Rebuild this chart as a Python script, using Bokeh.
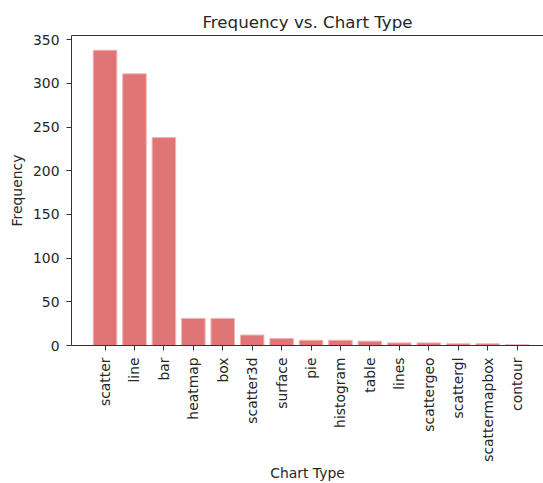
import math
from bokeh.plotting import figure
from bokeh.models import Range1d, FixedTicker, LinearAxis, ColumnDataSource
from bokeh.embed import file_html
from bokeh.resources import INLINE

chart_types = ["scatter", "line", "bar", "heatmap", "box", "scatter3d", "surface",
               "pie", "histogram", "table", "lines", "scattergeo", "scattergl",
               "scattermapbox", "contour"]
frequency = [338, 311, 238, 31, 31, 12, 8, 6, 6, 5, 3, 3, 2, 2, 1]
y_ticks = [0, 50, 100, 150, 200, 250, 300, 350]

FONT = "DejaVu Sans"
TEXT = "#262626"
LINE = "#333333"

positions = list(range(len(chart_types)))
src = ColumnDataSource(dict(x=positions, top=frequency))

p = figure(width=543, height=483, output_backend="svg", toolbar_location=None,
           x_range=Range1d(-1.14, 14.9), y_range=Range1d(0, max(frequency) * 1.05),
           min_border_left=71, min_border_right=0, min_border_top=35, min_border_bottom=0)

p.vbar(x="x", top="top", width=0.8, source=src, fill_color="#e07575",
       line_color="#f0b4b4", line_width=1)

p.title.text = "Frequency vs. Chart Type"
p.title.text_font = FONT
p.title.text_font_size = "16.7px"
p.title.text_font_style = "normal"
p.title.text_color = TEXT
p.title.align = "center"
p.title.offset = 4
p.title.standoff = 8

p.outline_line_color = None
p.xgrid.visible = False
p.ygrid.visible = False
p.background_fill_color = "white"
p.border_fill_color = "white"

for ax in (p.xaxis[0], p.yaxis[0]):
    ax.axis_line_color = LINE
    ax.major_tick_line_color = LINE
    ax.major_tick_out = 5
    ax.major_tick_in = 0
    ax.minor_tick_line_color = None
    ax.major_label_text_font = FONT
    ax.major_label_text_font_size = "13.9px"
    ax.major_label_text_color = TEXT
    ax.axis_label_text_font = FONT
    ax.axis_label_text_font_size = "13.9px"
    ax.axis_label_text_font_style = "normal"
    ax.axis_label_text_color = TEXT

p.xaxis.ticker = FixedTicker(ticks=positions)
p.xaxis.major_label_overrides = {i: n for i, n in zip(positions, chart_types)}
p.xaxis.major_label_orientation = math.pi / 2
p.xaxis.major_label_standoff = 7
p.xaxis.axis_label = "Chart Type"
p.xaxis.axis_label_standoff = 0

p.yaxis.ticker = FixedTicker(ticks=y_ticks)
p.yaxis.major_label_standoff = 7
p.yaxis.axis_label = "Frequency"
p.yaxis.axis_label_standoff = 5

top_spine = LinearAxis(axis_line_color=LINE, major_tick_line_color=None,
                       minor_tick_line_color=None, major_label_text_font_size="0px",
                       major_tick_out=0, major_tick_in=0, major_label_standoff=0,
                       ticker=FixedTicker(ticks=[]))
p.add_layout(top_spine, "above")

open("out.html", "w").write(file_html(p, INLINE))
